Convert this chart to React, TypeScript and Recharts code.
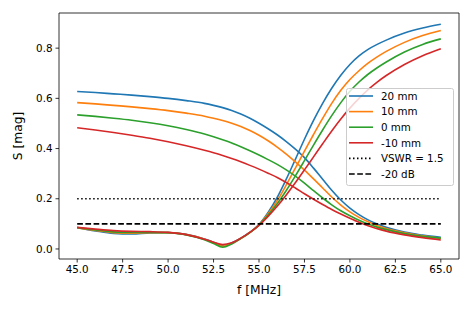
import React from "react"
import { LineChart, Line, XAxis, YAxis, ReferenceLine, ReferenceArea, Label } from "recharts"

// frequency grid in MHz
const freqs = [45, 46, 47, 48, 49, 50, 51, 52, 52.5, 53, 53.5, 54, 54.5, 55, 55.5, 56, 56.5, 57, 57.5, 58, 58.5, 59, 59.5, 60, 60.5, 61, 61.5, 62, 63, 64, 65]

// falling curves
const fall20 = [0.627, 0.623, 0.618, 0.613, 0.607, 0.6, 0.591, 0.58, 0.572, 0.563, 0.552, 0.538, 0.521, 0.501, 0.479, 0.455, 0.428, 0.398, 0.364, 0.322, 0.278, 0.234, 0.195, 0.163, 0.137, 0.116, 0.099, 0.086, 0.067, 0.055, 0.046]
const fall10 = [0.583, 0.578, 0.572, 0.566, 0.559, 0.551, 0.541, 0.529, 0.521, 0.512, 0.501, 0.488, 0.472, 0.453, 0.431, 0.406, 0.378, 0.347, 0.314, 0.279, 0.243, 0.207, 0.175, 0.148, 0.126, 0.108, 0.093, 0.081, 0.064, 0.052, 0.042]
const fall0 = [0.534, 0.528, 0.521, 0.513, 0.503, 0.491, 0.476, 0.458, 0.447, 0.435, 0.422, 0.407, 0.391, 0.374, 0.356, 0.337, 0.315, 0.29, 0.262, 0.232, 0.203, 0.176, 0.152, 0.132, 0.114, 0.099, 0.087, 0.077, 0.061, 0.05, 0.043]
const fallM10 = [0.483, 0.474, 0.464, 0.453, 0.441, 0.427, 0.411, 0.393, 0.383, 0.372, 0.36, 0.347, 0.333, 0.318, 0.302, 0.285, 0.265, 0.243, 0.22, 0.198, 0.177, 0.157, 0.139, 0.122, 0.106, 0.092, 0.081, 0.071, 0.056, 0.045, 0.036]

// rising curves
const rise20 = [0.085, 0.072, 0.062, 0.06, 0.064, 0.065, 0.058, 0.04, 0.027, 0.014, 0.024, 0.043, 0.067, 0.097, 0.145, 0.205, 0.278, 0.357, 0.437, 0.512, 0.58, 0.64, 0.692, 0.735, 0.769, 0.795, 0.815, 0.832, 0.86, 0.88, 0.895]
const rise10 = [0.085, 0.074, 0.065, 0.063, 0.065, 0.065, 0.057, 0.039, 0.025, 0.011, 0.022, 0.042, 0.066, 0.096, 0.14, 0.192, 0.255, 0.322, 0.39, 0.456, 0.52, 0.58, 0.632, 0.675, 0.71, 0.74, 0.765, 0.787, 0.823, 0.85, 0.87]
const rise0 = [0.085, 0.076, 0.068, 0.066, 0.066, 0.065, 0.056, 0.037, 0.022, 0.007, 0.02, 0.041, 0.065, 0.095, 0.135, 0.18, 0.233, 0.291, 0.352, 0.414, 0.474, 0.531, 0.583, 0.628, 0.665, 0.696, 0.722, 0.745, 0.785, 0.815, 0.837]
const riseM10 = [0.086, 0.079, 0.073, 0.07, 0.069, 0.066, 0.057, 0.039, 0.027, 0.018, 0.025, 0.043, 0.066, 0.094, 0.13, 0.17, 0.215, 0.264, 0.315, 0.367, 0.419, 0.47, 0.518, 0.561, 0.6, 0.635, 0.665, 0.691, 0.735, 0.77, 0.798]

const seriesNames = ["20 mm", "10 mm", "0 mm", "-10 mm"]
const seriesColors = ["#1f77b4", "#ff7f0e", "#2ca02c", "#d62728"]
const fallSets = [fall20, fall10, fall0, fallM10]
const riseSets = [rise20, rise10, rise0, riseM10]

const vswrLevel = 0.2
const dbLevel = 0.1
const lineSpan = [45, 65]

const xTicks = [45, 47.5, 50, 52.5, 55, 57.5, 60, 62.5, 65]
const yTicks = [0, 0.2, 0.4, 0.6, 0.8]

const data = freqs.map((f, i) => {
  const row: Record<string, number> = { f }
  fallSets.forEach((s, k) => { row["fall" + k] = s[i] })
  riseSets.forEach((s, k) => { row["rise" + k] = s[i] })
  return row
})

const font = "DejaVu Sans, sans-serif"

function XLabel(props: any) {
  const vb = props.viewBox
  return <text x={vb.x + vb.width / 2} y={294} textAnchor="middle" fontSize={12.3} fontFamily={font} fill="#000">f [MHz]</text>
}

function YLabel(props: any) {
  const vb = props.viewBox
  const cy = vb.y + vb.height / 2
  return (
    <text x={22} y={cy} transform={`rotate(-90, 22, ${cy})`} textAnchor="middle" fontSize={12.3} fontFamily={font} fill="#000">
      S [mag]
    </text>
  )
}

function LegendBox() {
  const rows = [
    ...seriesNames.map((n, i) => ({ name: n, color: seriesColors[i], dash: undefined as string | undefined })),
    { name: "VSWR = 1.5", color: "#000", dash: "1.5 2.5" },
    { name: "-20 dB", color: "#000", dash: "5.7 2.5" },
  ]
  return (
    <svg width={108} height={98} style={{ position: "absolute", left: 346, top: 88 }}>
      <rect x={0.5} y={0.5} width={107} height={97} rx={2} fill="rgba(255,255,255,0.8)" stroke="#cccccc" strokeWidth={1} />
      {rows.map((r, i) => {
        const y = 8 + i * 15.6
        return (
          <g key={r.name}>
            <line x1={3} x2={27} y1={y} y2={y} stroke={r.color} strokeWidth={1.6} strokeDasharray={r.dash} />
            <text x={35} y={y + 3.7} fontSize={10.3} fontFamily={font} fill="#000">{r.name}</text>
          </g>
        )
      })}
    </svg>
  )
}

export default function App() {
  return (
    <div style={{ position: "absolute", left: 0, top: 0, width: 472, height: 310, background: "#fff" }}>
      <LineChart width={472} height={310} data={data} margin={{ top: 13, right: 13, bottom: 21, left: 9 }}>
        <ReferenceArea x1={44} x2={66} y1={-0.04} y2={0.94} fill="none" stroke="#000" strokeWidth={0.8} ifOverflow="visible" />
        <XAxis
          dataKey="f"
          type="number"
          domain={[44, 66]}
          ticks={xTicks}
          tickFormatter={(v: number) => v.toFixed(1)}
          allowDataOverflow
          height={30}
          axisLine={false}
          tickLine={{ stroke: "#000", strokeWidth: 0.8 }}
          tickSize={3.5}
          tickMargin={3}
          tick={{ fill: "#000", fontSize: 10.3, fontFamily: font }}
        >
          <Label content={<XLabel />} />
        </XAxis>
        <YAxis
          type="number"
          domain={[-0.04, 0.94]}
          ticks={yTicks}
          tickFormatter={(v: number) => v.toFixed(1)}
          allowDataOverflow
          width={50}
          axisLine={false}
          tickLine={{ stroke: "#000", strokeWidth: 0.8 }}
          tickSize={3.5}
          tickMargin={3}
          tick={{ fill: "#000", fontSize: 10.3, fontFamily: font }}
        >
          <Label content={<YLabel />} />
        </YAxis>
        {seriesColors.map((c, k) => [
          <Line key={"fall" + k} dataKey={"fall" + k} type="monotone" stroke={c} strokeWidth={1.6} dot={false} isAnimationActive={false} />,
          <Line key={"rise" + k} dataKey={"rise" + k} type="monotone" stroke={c} strokeWidth={1.6} dot={false} isAnimationActive={false} />,
        ])}
        <ReferenceLine segment={[{ x: lineSpan[0], y: vswrLevel }, { x: lineSpan[1], y: vswrLevel }]} stroke="#000" strokeWidth={1.6} strokeDasharray="1.5 2.5" />
        <ReferenceLine segment={[{ x: lineSpan[0], y: dbLevel }, { x: lineSpan[1], y: dbLevel }]} stroke="#000" strokeWidth={1.6} strokeDasharray="5.7 2.5" />
      </LineChart>
      <LegendBox />
    </div>
  )
}
